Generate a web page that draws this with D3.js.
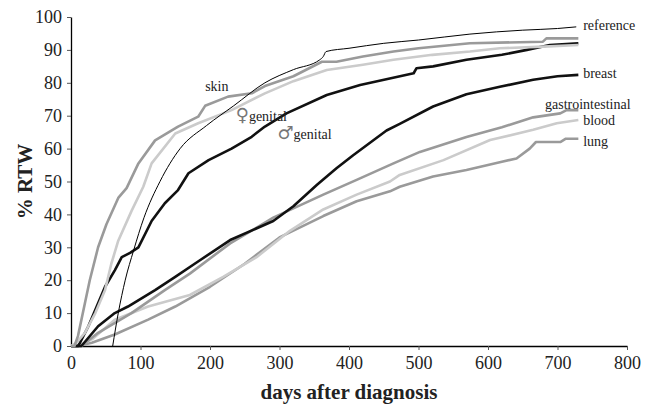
<!DOCTYPE html>
<html>
<head>
<meta charset="utf-8">
<script src="https://cdn.jsdelivr.net/npm/d3@7"></script>
<style>
  body { margin: 0; background: #fff; }
  svg text { font-family: "Liberation Serif", "DejaVu Serif", serif; fill: #222; }
</style>
</head>
<body>
<div id="chart"></div>
<script>
// Return-to-work curves by cancer site
var xTicks = [0, 100, 200, 300, 400, 500, 600, 700, 800];
var yTicks = [0, 10, 20, 30, 40, 50, 60, 70, 80, 90, 100];

var reference = [[60,0],[68,10],[78,20],[90,29],[105,39],[128,50],[157,60],[195,67],[234,73],[279,80],[320,84],[358,87],[363,88],[367,89.5],[400,90.5],[450,92],[500,93],[574,94.8],[650,96],[700,96.5],[727,97]];
var skin = [[0,0],[5,0],[10,3],[20,13],[27,20],[39,30],[51,37],[68,45],[80,48],[97,55.5],[121,62.5],[154,66.7],[183,69.7],[193,73],[226,75.8],[260,76.8],[279,79],[320,82],[361,86.4],[382,86.4],[420,88],[464,89.5],[500,90.5],[574,92],[679,92.5],[684,93.5],[730,93.5]];
var femaleGenital = [[0,0],[8,1],[20,4],[35,10],[49,17],[58,25],[68,32],[87,41],[104,48.4],[116,55.5],[150,64.6],[183,67.7],[231,71.7],[279,76.8],[320,80.5],[368,83.9],[420,85.5],[464,87],[520,88.5],[574,89.5],[617,90.5],[680,91],[730,91.5]];
var maleGenital = [[0,0],[10,0],[13,1],[25,6],[37,12],[49,18],[63,23],[73,27],[85,28.3],[97,30],[116,38],[135,43.4],[154,47.4],[169,52.5],[198,56.5],[231,60],[260,63.6],[279,66.7],[310,70.7],[368,76.3],[416,79.3],[493,82.9],[497,84.4],[521,85],[569,87],[620,88.5],[656,90],[689,91.5],[730,92]];
var breast = [[0,0],[15,0],[39,6],[63,10],[82,12],[121,17],[150,21],[178,25],[229,32.2],[291,38],[320,42.5],[354,49],[382,54],[406,58],[454,65.5],[473,67.5],[521,72.8],[569,76.5],[617,78.8],[665,80.9],[700,82],[730,82.4]];
var gastro = [[0,0],[15,0],[39,4],[87,10],[135,17],[171,22],[229,31.2],[291,39],[363,46],[411,50.5],[464,55.5],[502,59],[569,63.5],[620,66.5],[665,69.5],[704,70.7],[713,71.7],[730,71.7]];
var blood = [[0,0],[10,0],[30,2],[63,8],[111,12],[171,15.5],[219,21],[267,27],[315,35],[363,41.5],[411,46],[459,50],[473,52],[536,56.5],[603,62.6],[665,65.7],[699,67.7],[730,68.7]];
var lung = [[0,0],[10,0],[30,1],[63,3.5],[111,8],[150,12],[200,18],[250,25],[300,33],[363,39.5],[411,44],[459,47],[473,48.4],[521,51.5],[569,53.5],[620,56],[641,57],[660,60],[669,62],[704,62],[712,63],[730,63]];

var seriesNames = ['lung', 'blood', 'gastrointestinal', 'breast', 'male genital', 'female genital', 'skin', 'reference'];
var seriesData = [lung, blood, gastro, breast, maleGenital, femaleGenital, skin, reference];
var seriesColor = ['#9a9a9a', '#cbcbcb', '#9a9a9a', '#111', '#111', '#cbcbcb', '#9a9a9a', '#000'];
var seriesWidth = [2.6, 2.6, 2.6, 2.6, 2.6, 2.6, 2.6, 1];

// labels: symbol + text, anchored at [days, %]
var labelSymbol = ['', '', '', '', '', '', '♀', '♂'];
var labelText = ['reference', 'breast', 'gastrointestinal', 'blood', 'lung', 'skin', 'genital', 'genital'];
var labelX = [737, 737, 682, 737, 737, 193, 237, 297];
var labelY = [97.4, 82.8, 73.4, 68.7, 62.2, 79, 70, 64.5];

var W = 652, H = 408;
var svg = d3.select('#chart').append('svg').attr('width', W).attr('height', H);
var x = d3.scaleLinear().domain([0, 800]).range([71, 627]);
var y = d3.scaleLinear().domain([0, 100]).range([346, 17]);

// axes
var xAxis = svg.append('g').attr('transform', 'translate(0,' + y(0) + ')')
  .call(d3.axisBottom(x).tickValues(xTicks).tickSize(4).tickPadding(6).tickSizeOuter(0));
var yAxis = svg.append('g').attr('transform', 'translate(' + x(0) + ',0)')
  .call(d3.axisLeft(y).tickValues(yTicks).tickSize(4).tickPadding(5).tickSizeOuter(0));
[xAxis, yAxis].forEach(function(a) {
  a.select('.domain').attr('stroke', '#000').attr('stroke-width', 1.3);
  a.selectAll('.tick line').attr('stroke', '#555');
  a.selectAll('.tick text').attr('font-size', '18px').attr('fill', '#222')
    .style('font-family', '"Liberation Serif", serif');
});
xAxis.selectAll('.tick').filter(function(d) { return d === 0; }).select('line').remove();

var line = d3.line().x(function(d) { return x(d[0]); }).y(function(d) { return y(d[1]); });
var smooth = d3.line().curve(d3.curveMonotoneX).x(function(d) { return x(d[0]); }).y(function(d) { return y(d[1]); });

svg.append('g').selectAll('path').data(seriesData).enter().append('path')
  .attr('d', function(d, i) { return seriesNames[i] === 'reference' ? smooth(d) : line(d); })
  .attr('fill', 'none')
  .attr('stroke', function(d, i) { return seriesColor[i]; })
  .attr('stroke-width', function(d, i) { return seriesWidth[i]; })
  .attr('stroke-linejoin', 'round');

var lab = svg.append('g').selectAll('text').data(labelText).enter().append('text')
  .attr('x', function(d, i) { return x(labelX[i]); })
  .attr('y', function(d, i) { return y(labelY[i]); })
  .attr('dy', '0.35em')
  .attr('font-size', '14px');
lab.append('tspan').attr('font-size', '18px')
  .style('font-family', '"DejaVu Sans", sans-serif').style('fill', '#777')
  .text(function(d, i) { return labelSymbol[i]; });
lab.append('tspan').text(function(d) { return d; });

svg.append('text').attr('x', 349).attr('y', 399).attr('text-anchor', 'middle')
  .attr('font-size', '21px').attr('font-weight', 'bold').text('days after diagnosis');
svg.append('text').attr('transform', 'translate(32,' + y(50) + ') rotate(-90)')
  .attr('text-anchor', 'middle').attr('font-size', '21px').attr('font-weight', 'bold').text('% RTW');
</script>
</body>
</html>
